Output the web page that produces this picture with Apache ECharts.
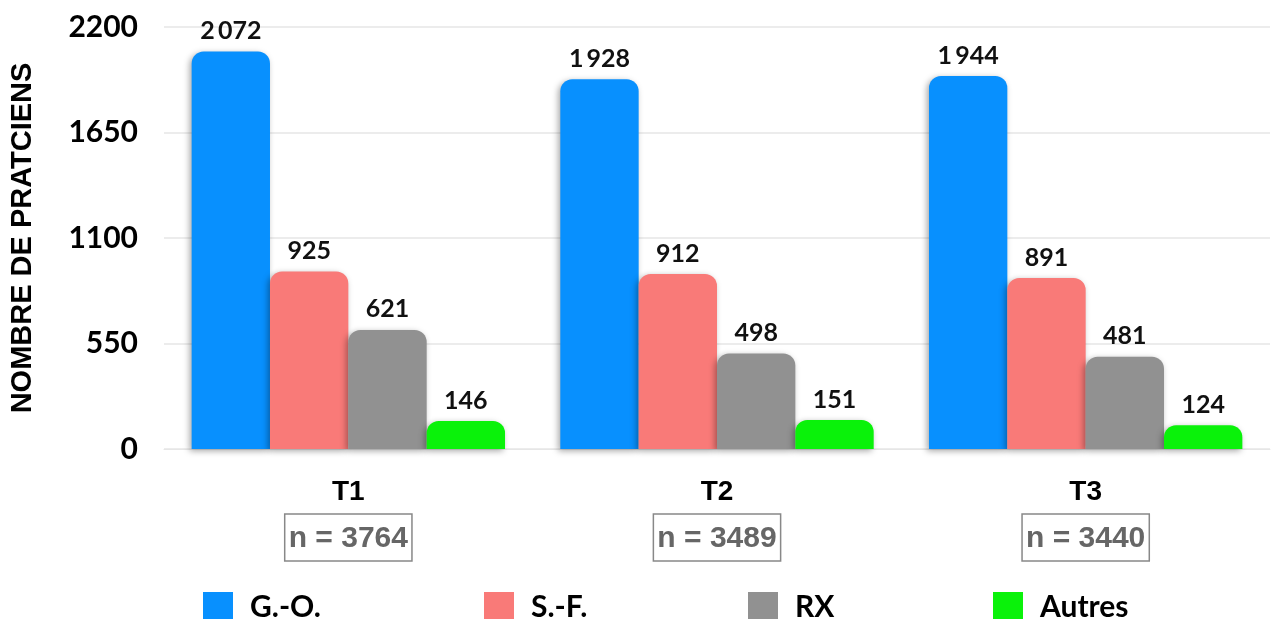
<!DOCTYPE html>
<html>
<head>
<meta charset="utf-8">
<script src="https://cdn.jsdelivr.net/npm/echarts@6/dist/echarts.min.js"></script>
<style>html,body{margin:0;padding:0;background:#fff}#c{width:1271px;height:619px}</style>
</head>
<body>
<div id="c"></div>
<script>
const categories = ['T1', 'T2', 'T3'];
const totals = [3764, 3489, 3440];
const seriesNames = ['G.-O.', 'S.-F.', 'RX', 'Autres'];
const goValues = [2072, 1928, 1944];
const sfValues = [925, 912, 891];
const rxValues = [621, 498, 481];
const autresValues = [146, 151, 124];
const yTicks = [0, 550, 1100, 1650, 2200];
const colors = ['#0890FE', '#F97A78', '#919191', '#0AF20A'];
const legendLeft = [198, 479, 743, 988];

const allValues = [goValues, sfValues, rxValues, autresValues];
const numFont = 'Lato';

function fmt(v) {
  const s = String(v);
  return v >= 1000 ? s.slice(0, s.length - 3) + '\u2009' + s.slice(-3) : s;
}

const chart = echarts.init(document.getElementById('c'));
chart.setOption({
  animation: false,
  grid: { left: 163, right: 1, top: 27, bottom: 170 },
  legend: seriesNames.map((n, i) => ({
    data: [n],
    left: legendLeft[i],
    top: 587,
    itemWidth: 30,
    itemHeight: 30,
    itemGap: 10,
    icon: 'rect',
    selectedMode: false,
    textStyle: { fontFamily: numFont, fontWeight: 'bold', fontSize: 30, color: '#000', padding: [0, 0, 0, 12] }
  })),
  xAxis: {
    type: 'category',
    data: categories,
    axisLine: { lineStyle: { color: '#e6e6e6' } },
    axisTick: { show: false },
    axisLabel: {
      margin: 21,
      interval: 0,
      formatter: (v, i) => '{t|' + v + '}\n{n|n = ' + totals[i] + '}',
      rich: {
        t: { fontFamily: 'Liberation Sans', fontWeight: 'bold', fontSize: 28, color: '#000', lineHeight: 44 },
        n: { fontFamily: 'Liberation Sans', fontWeight: 'bold', fontSize: 30, color: '#666', borderColor: '#888', borderWidth: 1.5, padding: [10, 4, 7, 4] }
      }
    }
  },
  yAxis: {
    type: 'value',
    min: 0,
    max: 2200,
    interval: 550,
    name: 'NOMBRE DE PRATCIENS',
    nameLocation: 'middle',
    nameGap: 127,
    nameRotate: 90,
    nameTextStyle: { fontFamily: 'Liberation Sans', fontWeight: 'bold', fontSize: 29, color: '#000' },
    axisLabel: {
      margin: 26,
      fontFamily: numFont,
      fontWeight: 'bold',
      fontSize: 30,
      color: '#000',
      formatter: v => yTicks.includes(v) ? String(v) : ''
    },
    splitLine: { lineStyle: { color: '#e6e6e6', width: 1.5 } },
    axisLine: { show: false },
    axisTick: { show: false }
  },
  series: seriesNames.map((n, i) => ({
    name: n,
    type: 'bar',
    data: allValues[i],
    barGap: '0%',
    barCategoryGap: '15%',
    itemStyle: {
      color: colors[i],
      borderRadius: [12, 12, 0, 0],
      shadowColor: 'rgba(0,0,0,0.35)',
      shadowBlur: 6,
      shadowOffsetX: -2,
      shadowOffsetY: 2
    },
    label: {
      show: true,
      position: 'top',
      distance: 8,
      fontFamily: numFont,
      fontWeight: 'bold',
      fontSize: 25,
      color: '#111',
      formatter: p => fmt(p.value)
    }
  }))
});
</script>
</body>
</html>
